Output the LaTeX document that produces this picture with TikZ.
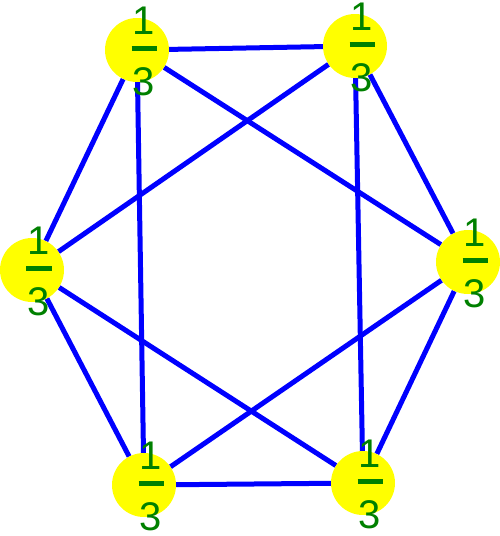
\documentclass[tikz,border=0pt]{standalone}
\usepackage{fontspec}
\setmainfont{Liberation Sans}
\usetikzlibrary{backgrounds}
\definecolor{spotY}{HTML}{FFFF00}
\definecolor{edgeB}{HTML}{0000FF}
\definecolor{numG}{HTML}{008000}
\newcommand{\onethird}{\vbox{\hbox to 25pt{\hss 1\hss}\kern12pt
  \hrule height 5pt width 25pt\kern16pt\hbox to 25pt{\hss 3\hss}}}
\tikzset{
  frac/.style={font=\fontsize{40}{40}\selectfont,text=numG,inner sep=0pt,
    xshift=7pt,yshift=-1pt},
  spot/.style={circle,fill=spotY,minimum size=64pt,inner sep=0pt,
    label={[frac]center:\onethird}},
  link/.style={draw=edgeB,line width=5pt},
}
\begin{document}
\begin{tikzpicture}[x=1pt,y=-1pt]
\useasboundingbox (0,0) rectangle (500,536);

% ---------- vertices ----------
\node[spot] (A) at (137,50) {};
\node[spot] (B) at (355,46) {};
\node[spot] (C) at (468,262) {};
\node[spot] (D) at (32,270) {};
\node[spot] (E) at (144,485) {};
\node[spot] (F) at (363,483) {};

% ---------- edges ----------
\begin{scope}[on background layer]
\draw[link] (A) -- (B);
\draw[link] (A) -- (D);
\draw[link] (A) -- (C);
\draw[link] (A) -- (E);
\draw[link] (B) -- (D);
\draw[link] (B) -- (F);
\draw[link] (B) -- (C);
\draw[link] (D) -- (E);
\draw[link] (D) -- (F);
\draw[link] (C) -- (E);
\draw[link] (C) -- (F);
\draw[link] (E) -- (F);
\end{scope}

\end{tikzpicture}
\end{document}
